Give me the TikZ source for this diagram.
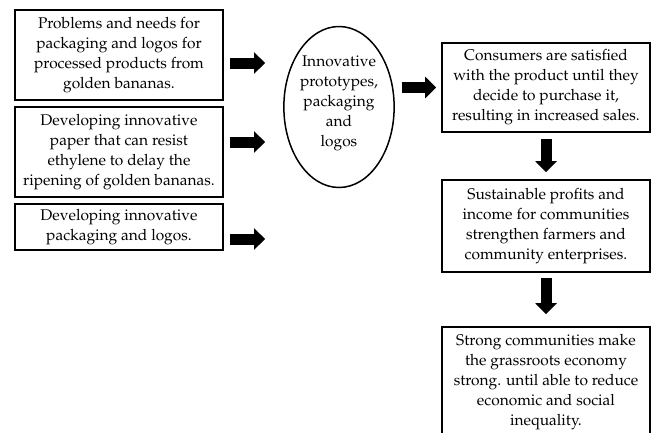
\documentclass[tikz,border=0pt]{standalone}
\usepackage[T1]{fontenc}
\usepackage{mathpazo}
\usepackage{tikz}
\usetikzlibrary{arrows.meta}
\usetikzlibrary{shapes.geometric}

\begin{document}
\begin{tikzpicture}[x=1pt, y=-1pt,
    font=\fontsize{15.5}{20}\selectfont,
    stagebox/.style={draw, line width=1.7pt, minimum width=208pt, align=center, inner sep=3pt},
    fatarrow/.style={line width=11pt, -{Triangle[length=11pt, width=21pt]}}]
    \useasboundingbox (0,0) rectangle (651,432);
    \clip (0,0) rectangle (651,432);
    % left column
    \node[stagebox, minimum height=90pt] (b1) at (119,55) {Problems and needs for\\packaging and logos for\\processed products from\\golden bananas.};
    \node[stagebox, minimum height=90pt] (b2) at (119,152) {Developing innovative\\paper that can resist\\ethylene to delay the\\ripening of golden bananas.};
    \node[stagebox, minimum height=46pt] (b3) at (119,227) {Developing innovative\\packaging and logos.};
    % middle
    \node[draw, ellipse, line width=1.5pt, minimum width=108pt, minimum height=161pt, inner sep=0pt, align=center] (el) at (339,107) {\\[-17pt]Innovative\\prototypes,\\packaging\\and\\logos};
    % right column
    \node[stagebox, minimum height=89pt] (b4) at (546,87.5) {Consumers are satisfied\\with the product until they\\decide to purchase it,\\resulting in increased sales.};
    \node[stagebox, minimum height=92pt] (b5) at (546,226) {Sustainable profits and\\income for communities\\strengthen farmers and\\community enterprises.};
    \node[stagebox, minimum height=110pt] (b6) at (546,382) {Strong communities make\\the grassroots economy\\strong. until able to reduce\\economic and social\\inequality.};
    % arrows
    \draw[fatarrow, shorten <=6pt, shorten >=18pt] ([yshift=-8pt]b1.east) -- ([yshift=-8pt]b1.east -| el.west);
    \draw[fatarrow, shorten <=6pt, shorten >=18pt] ([yshift=10pt]b2.east) -- ([yshift=10pt]b2.east -| el.west);
    \draw[fatarrow, shorten <=6pt, shorten >=18pt] ([yshift=-12pt]b3.east) -- ([yshift=-12pt]b3.east -| el.west);
    \draw[fatarrow, shorten <=7pt, shorten >=5pt] (b4.west -| el.east) -- (b4.west);
    \draw[fatarrow, shorten <=6pt, shorten >=7pt] (b4.south) -- (b5.north);
    \draw[fatarrow, shorten <=5pt, shorten >=12pt] (b5.south) -- (b6.north);
\end{tikzpicture}
\end{document}
